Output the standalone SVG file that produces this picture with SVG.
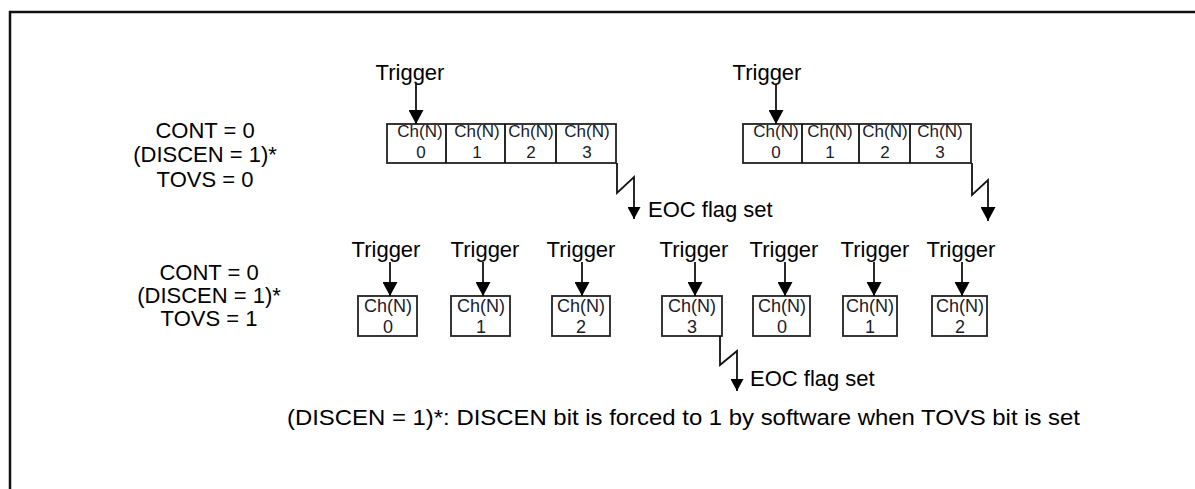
<svg xmlns="http://www.w3.org/2000/svg" width="1195" height="489" viewBox="0 0 1195 489">
<defs>
<style>
text{font-family:"Liberation Sans",Arial,sans-serif;fill:#000}
.lbl{font-size:22px;text-anchor:middle}
.trg{font-size:22px;text-anchor:middle}
.c1{font-size:17px;text-anchor:middle;fill:#1a1a2a}
.c2{font-size:18px;text-anchor:middle;fill:#1a1a2a}
.eoc{font-size:22px}
.box{fill:#fff;stroke:#222;stroke-width:1.8}
.ln{fill:none;stroke:#111;stroke-width:1.8}
.frame{fill:none;stroke:#111;stroke-width:2.5}
</style>
<marker id="ah" markerUnits="userSpaceOnUse" viewBox="0 0 14 15" refX="14" refY="7.5" markerWidth="14" markerHeight="15" orient="auto"><path d="M0,0 L14,7.5 L0,15 z" fill="#000"/></marker>
<marker id="ah2" markerUnits="userSpaceOnUse" viewBox="0 0 12 13" refX="12" refY="6.5" markerWidth="12" markerHeight="13" orient="auto"><path d="M0,0 L12,6.5 L0,13 z" fill="#000"/></marker>
</defs>
<rect width="1195" height="489" fill="#fff"/>
<path class="frame" d="M10,489 V12 H1195"/>

<g id="mode-tovs0">
<text class="lbl" x="205" y="138">CONT = 0</text>
<text class="lbl" x="205" y="162">(DISCEN = 1)*</text>
<text class="lbl" x="205" y="187">TOVS = 0</text>
</g>
<g id="mode-tovs1">
<text class="lbl" x="209" y="280">CONT = 0</text>
<text class="lbl" x="209" y="303">(DISCEN = 1)*</text>
<text class="lbl" x="209" y="326">TOVS = 1</text>
</g>

<g id="trig-a"><text class="trg" x="410" y="80">Trigger</text></g>
<g id="trig-b"><text class="trg" x="767" y="80">Trigger</text></g>

<g id="seq-a">
<rect class="box" x="387" y="124" width="229" height="39"/>
<path class="ln" d="M446,124 V163 M505,124 V163 M556,124 V163"/>
<text class="c1" x="420" y="137">Ch(N)</text><text class="c1" x="421" y="158">0</text>
<text class="c1" x="477" y="137">Ch(N)</text><text class="c1" x="477" y="158">1</text>
<text class="c1" x="531" y="137">Ch(N)</text><text class="c1" x="531" y="158">2</text>
<text class="c1" x="587" y="137">Ch(N)</text><text class="c1" x="587" y="158">3</text>
</g>
<g id="seq-b">
<rect class="box" x="743" y="124" width="228" height="39"/>
<path class="ln" d="M802,124 V163 M859,124 V163 M910,124 V163"/>
<text class="c1" x="776" y="137">Ch(N)</text><text class="c1" x="776" y="158">0</text>
<text class="c1" x="830" y="137">Ch(N)</text><text class="c1" x="830" y="158">1</text>
<text class="c1" x="885" y="137">Ch(N)</text><text class="c1" x="885" y="158">2</text>
<text class="c1" x="940" y="137">Ch(N)</text><text class="c1" x="940" y="158">3</text>
</g>

<g id="eoc-a"><text class="eoc" x="648" y="217">EOC flag set</text></g>

<g id="t1"><text class="trg" x="386" y="257">Trigger</text></g>
<g id="t2"><text class="trg" x="485" y="257">Trigger</text></g>
<g id="t3"><text class="trg" x="581" y="257">Trigger</text></g>
<g id="t4"><text class="trg" x="694" y="257">Trigger</text></g>
<g id="t5"><text class="trg" x="784" y="257">Trigger</text></g>
<g id="t6"><text class="trg" x="875" y="257">Trigger</text></g>
<g id="t7"><text class="trg" x="961" y="257">Trigger</text></g>

<g id="b1"><rect class="box" x="358" y="296" width="59" height="40"/><text class="c2" x="388" y="312">Ch(N)</text><text class="c2" x="388" y="333">0</text></g>
<g id="b2"><rect class="box" x="451" y="296" width="59" height="40"/><text class="c2" x="481" y="312">Ch(N)</text><text class="c2" x="481" y="333">1</text></g>
<g id="b3"><rect class="box" x="552" y="296" width="58" height="40"/><text class="c2" x="581" y="312">Ch(N)</text><text class="c2" x="581" y="333">2</text></g>
<g id="b4"><rect class="box" x="662" y="296" width="60" height="40"/><text class="c2" x="692" y="312">Ch(N)</text><text class="c2" x="692" y="333">3</text></g>
<g id="b5"><rect class="box" x="753" y="296" width="57" height="40"/><text class="c2" x="782" y="312">Ch(N)</text><text class="c2" x="782" y="333">0</text></g>
<g id="b6"><rect class="box" x="843" y="296" width="54" height="40"/><text class="c2" x="870" y="312">Ch(N)</text><text class="c2" x="870" y="333">1</text></g>
<g id="b7"><rect class="box" x="932" y="296" width="55" height="40"/><text class="c2" x="960" y="312">Ch(N)</text><text class="c2" x="960" y="333">2</text></g>

<g id="eoc-b"><text class="eoc" x="750" y="386">EOC flag set</text></g>

<g id="footnote"><text x="287" y="425" style="font-size:22px" textLength="793" lengthAdjust="spacingAndGlyphs">(DISCEN = 1)*: DISCEN bit is forced to 1 by software when TOVS bit is set</text></g>

<g id="connectors">
<path class="ln" d="M416,84 V124" marker-end="url(#ah)"/>
<path class="ln" d="M776,84 V124" marker-end="url(#ah)"/>
<path class="ln" d="M617,163 V193 L634,177 V219" marker-end="url(#ah2)"/>
<path class="ln" d="M972,163 V195 L988,180 V221" marker-end="url(#ah)"/>
<path class="ln" d="M390,262 V296" marker-end="url(#ah)"/>
<path class="ln" d="M483,262 V296" marker-end="url(#ah)"/>
<path class="ln" d="M582,262 V296" marker-end="url(#ah)"/>
<path class="ln" d="M695,262 V296" marker-end="url(#ah)"/>
<path class="ln" d="M785,262 V296" marker-end="url(#ah)"/>
<path class="ln" d="M874,262 V296" marker-end="url(#ah)"/>
<path class="ln" d="M962,262 V296" marker-end="url(#ah)"/>
<path class="ln" d="M720,336 V365 L737,351 V391" marker-end="url(#ah2)"/>
</g>
</svg>
